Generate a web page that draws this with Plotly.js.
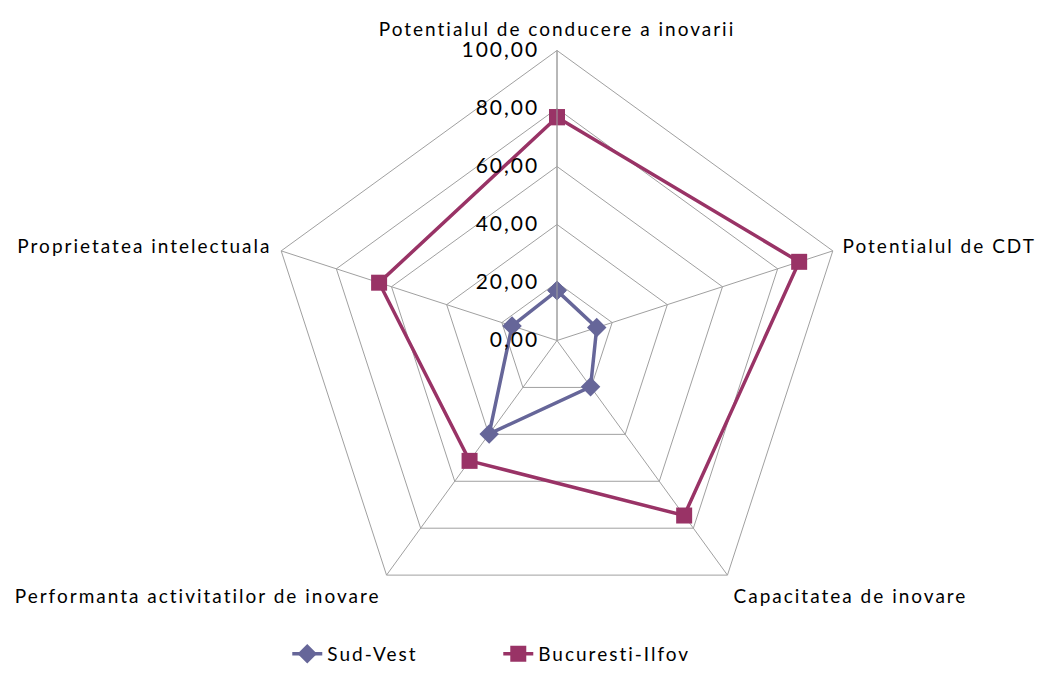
<!DOCTYPE html>
<html><head><meta charset="utf-8">
<script src="https://cdn.plot.ly/plotly-3.0.1.min.js"></script>
<style>html,body{margin:0;padding:0;background:#fff}#chart{width:1049px;height:673px}
text{letter-spacing:2px}</style>
</head><body><div id="chart"></div>
<script>
const categories = ["Potentialul de conducere a inovarii","Potentialul de CDT","Capacitatea de inovare","Performanta activitatilor de inovare","Proprietatea intelectuala"];
const sudVest = [17.2, 14.4, 19.7, 39.8, 16.3];
const bucurestiIlfov = [77.0, 87.8, 74.6, 51.3, 64.5];
const radialTicks = [0, 20, 40, 60, 80, 100];

function closed(a){ return a.concat([a[0]]); }

const traces = [
  {type:'scatterpolar', mode:'lines+markers', name:'Sud-Vest',
   r: closed(sudVest), theta: closed(categories),
   line:{color:'#666699', width:3.5},
   marker:{symbol:'diamond', size:15, color:'#666699'}},
  {type:'scatterpolar', mode:'lines+markers', name:'Bucuresti-Ilfov',
   r: closed(bucurestiIlfov), theta: closed(categories),
   line:{color:'#993366', width:3.5},
   marker:{symbol:'square', size:16, color:'#993366'}}
];

const layout = {
  width:1049, height:673,
  margin:{l:0,r:0,t:0,b:0},
  paper_bgcolor:'#fff',
  separators:', ',
  font:{family:'Lato, "Open Sans", sans-serif', color:'#000'},
  showlegend:true,
  legend:{orientation:'h', x:0.475, xanchor:'center', y:0, yanchor:'bottom',
          font:{size:19}, entrywidth:166, entrywidthmode:'pixels', traceorder:'normal'},
  polar:{
    domain:{x:[267/1049, 847/1049], y:[1-630.5/673, 1-50.5/673]},
    gridshape:'linear',
    bgcolor:'#fff',
    radialaxis:{range:[0,100], tickvals:radialTicks, tickformat:'.2f',
      angle:90, tickangle:90, side:'counterclockwise',
      showline:true, linecolor:'#a0a0a0', linewidth:1,
      gridcolor:'#a0a0a0', gridwidth:1, ticks:'outside', ticklen:10, tickcolor:'rgba(0,0,0,0)', tickfont:{size:21}},
    angularaxis:{direction:'clockwise', rotation:90,
      showline:true, linecolor:'#a0a0a0', linewidth:1,
      gridcolor:'#a0a0a0', ticks:'outside', ticklen:6, tickcolor:'rgba(0,0,0,0)', tickfont:{size:19}}
  }
};
Plotly.newPlot('chart', traces, layout, {displayModeBar:false, staticPlot:true});
</script></body></html>
